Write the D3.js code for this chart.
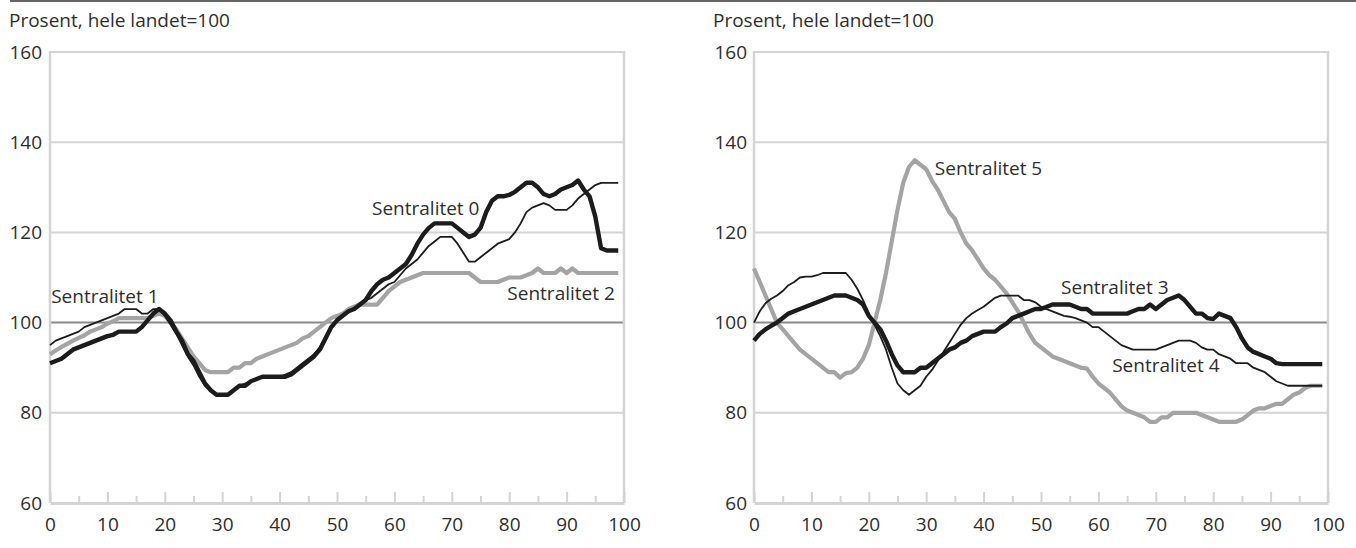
<!DOCTYPE html>
<html>
<head>
<meta charset="utf-8">
<script src="https://cdn.jsdelivr.net/npm/d3@7"></script>
<style>
  html, body { margin: 0; padding: 0; background: #fff; }
  svg { display: block; font-family: "Open Sans", "Noto Sans", sans-serif; }
</style>
</head>
<body>
<svg id="chart" width="1356" height="548"></svg>
<script>
// ---------- data ----------
const yTicks = [60, 80, 100, 120, 140, 160];
const xMajorTicks = [0, 10, 20, 30, 40, 50, 60, 70, 80, 90, 100];
const xMinorTicks = [5, 15, 25, 35, 45, 55, 65, 75, 85, 95];
const titleText = "Prosent, hele landet=100";

// Left panel
const sent0 = [91,91.5,92,93,94,94.5,95,95.5,96,96.5,97,97.3,98,98,98,98,99,100.5,102,103,
  102,100.5,98,96,93,91.5,89,86.5,85,84,84,84,85,86,86,87,87.5,88,88,88,
  88,88,88.5,89.5,90.5,91.5,92.5,94,96.5,99,100.5,101.5,102.5,103,104,105,107,108.5,109.5,110,
  111,112,113,115,117.5,119.5,121,122,122,122,122,121,120,119,119.5,121,124.5,127,128,128,
  128.3,129,130,131,131,130,128.5,128,128.5,129.5,130,130.5,131.5,129.5,128,123.5,116.5,116,116,116];
const sent1 = [95,96,96.5,97,97.5,98,99,99.5,100,100.5,101,101.5,102,103,103,103,102,102,103,103,
  101.5,99.5,97.5,95,92.5,90.5,88,86,85,84,84,84,85,86,86.5,87,87.5,88,88,88,
  88,88.5,89,90,91,92,93,94.5,97,99,100.5,101.5,102.5,103,104,105,105.5,106.5,107.5,108.5,
  109,110.5,112,113,114,115.5,117,118,119,119,119,117.5,115.5,113.5,113.5,114.5,115.5,116.5,117.5,118,
  118.5,120,122,124.5,125.5,126,126.5,126,125,125,125,126,127.5,128.5,129.5,130.5,131,131,131,131];
const sent2 = [93,93.8,94.6,95.3,96,96.6,97.2,98,98.5,99,99.8,100.3,101,101,101,101,101,101,101.5,102,
  101.5,100,98.5,96.5,94.5,92.5,91,89.5,89,89,89,89,90,90,91,91,92,92.5,93,93.5,
  94,94.5,95,95.5,96.5,97,98,99,100,101,101.5,102,103,103.5,104,104,104,104,105.5,107,
  108,109,109.5,110,110.5,111,111,111,111,111,111,111,111,111,110,109,109,109,109,109.5,
  110,110,110,110.5,111,112,111,111,111,112,111,112,111,111,111,111,111,111,111,111];

// Right panel
const sent3 = [96,97.5,98.5,99.3,100,101,102,102.5,103,103.5,104,104.5,105,105.5,106,106,106,105.5,105,104,
  101.5,100,98.5,96,93,90.5,89,89,89,90,90,91,92,93,94,94.5,95.5,96,97,97.5,
  98,98,98,99,99.8,101,101.5,102,102.5,103,103,103.5,104,104,104,104,103.5,103,103,102,
  102,102,102,102,102,102,102.5,103,103,104,103,104,105,105.5,106,105,103.5,102,102,101,
  100.8,102,101.5,101,99,96.5,94.5,93.5,93,92.5,92,91,90.8,90.8,90.8,90.8,90.8,90.8,90.8,90.8];
const sent4 = [100,102.5,104.3,105.3,106,107,108.3,109,110,110.2,110.2,110.5,111,111,111,111,111,109.5,107.5,105,
  102,99.5,97,94,90,86.5,85,84,85,86,88,89.5,91.5,93.5,95.5,97.5,99.5,101,102,102.8,
  103.5,104.5,105.5,106,106,106,106,105,105,104.5,103.5,103,102.5,102,101.5,101.3,101,100.5,100,99,
  99,98,97,96,95,94.5,94,94,94,94,94,94.5,95,95.5,96,96,96,95.5,94.5,94,
  94,93,92.5,92,91,91,91,90,89.5,89,88,87,86.5,86,86,86,86,86,86,86];
const sent5 = [112,109,106,103,100,98.5,97,95.5,94,93,92,91,90,89,89,87.8,88.8,89,90,92,
  95,100,105,111,118,125,131,134.5,136,135,134,131.5,129.5,127,124.5,123,120,117.5,116,114,
  112,110.5,109.5,108,106.5,104.5,102.5,100,97.5,95.5,94.5,93.5,92.5,92,91.5,91,90.5,90,89.8,88,
  86.5,85.5,84.5,83,81.5,80.5,80,79.5,79,78,78,79,79,80,80,80,80,80,79.5,79,
  78.5,78,78,78,78,78.5,79.5,80.5,81,81,81.5,82,82,83,84,84.5,85.5,86,86,86];

const leftSeries = [
  { name: "Sentralitet 2", values: sent2, style: "gray" },
  { name: "Sentralitet 1", values: sent1, style: "thin" },
  { name: "Sentralitet 0", values: sent0, style: "thick" }
];
const rightSeries = [
  { name: "Sentralitet 5", values: sent5, style: "gray" },
  { name: "Sentralitet 4", values: sent4, style: "thin" },
  { name: "Sentralitet 3", values: sent3, style: "thick" }
];
// label anchor points in data coordinates
const leftLabels = [
  { text: "Sentralitet 1", x: 0.2, y: 104.3, anchor: "start" },
  { text: "Sentralitet 0", x: 56.1, y: 123.9, anchor: "start" },
  { text: "Sentralitet 2", x: 98.4, y: 105.0, anchor: "end" }
];
const rightLabels = [
  { text: "Sentralitet 5", x: 31.5, y: 132.7, anchor: "start" },
  { text: "Sentralitet 3", x: 53.5, y: 106.3, anchor: "start" },
  { text: "Sentralitet 4", x: 62.4, y: 89.0, anchor: "start" }
];

// ---------- drawing ----------
const svg = d3.select("#chart");
const styles = {
  gray:  { stroke: "#a4a4a4", width: 4.2 },
  thin:  { stroke: "#1c1c1c", width: 1.8 },
  thick: { stroke: "#1c1c1c", width: 4.4 }
};
const textColor = "#2e2e2e";
const gridColor = "#d4d4d4";

// top rule
svg.append("line").attr("x1", 10).attr("x2", 1356).attr("y1", 1).attr("y2", 1)
  .attr("stroke", "#666").attr("stroke-width", 2);

function panel(left, right, titleX, yLabelGap, series, labels) {
  const x = d3.scaleLinear().domain([0, 100]).range([left, right]);
  const y = d3.scaleLinear().domain([60, 160]).range([503, 52]);
  const g = svg.append("g");

  g.append("text").attr("x", titleX).attr("y", 27).attr("fill", textColor)
    .attr("font-size", 19).text(titleText);

  // gridlines
  g.append("g").selectAll("line").data(yTicks.filter(v => v !== 60)).join("line")
    .attr("x1", x(0)).attr("x2", x(100))
    .attr("y1", d => y(d)).attr("y2", d => y(d))
    .attr("stroke", d => d === 100 ? "#8a8a8a" : gridColor)
    .attr("stroke-width", 2);
  // frame verticals
  g.append("g").selectAll("line").data([0, 100]).join("line")
    .attr("x1", d => x(d)).attr("x2", d => x(d))
    .attr("y1", y(160) - 1).attr("y2", y(60))
    .attr("stroke", gridColor).attr("stroke-width", 2.5);

  // y axis labels
  const yAxis = d3.axisLeft(y).tickValues(yTicks).tickSize(0).tickPadding(yLabelGap);
  const ya = g.append("g").attr("transform", `translate(${x(0)},0)`).call(yAxis);
  ya.select(".domain").remove();
  ya.selectAll("text").attr("fill", textColor).attr("font-size", 19)
    .attr("font-family", "'Open Sans', 'Noto Sans', sans-serif");

  // x axis
  const xa = g.append("g").attr("transform", `translate(0,${y(60)})`)
    .call(d3.axisBottom(x).tickValues(xMajorTicks).tickSizeInner(-11).tickSizeOuter(0).tickPadding(15));
  xa.select(".domain").attr("stroke", gridColor).attr("stroke-width", 3);
  xa.selectAll(".tick line").attr("stroke", gridColor).attr("stroke-width", 2);
  xa.selectAll("text").attr("fill", textColor).attr("font-size", 19)
    .attr("font-family", "'Open Sans', 'Noto Sans', sans-serif");
  const xm = g.append("g").attr("transform", `translate(0,${y(60)})`)
    .call(d3.axisBottom(x).tickValues(xMinorTicks).tickSizeInner(-7).tickSizeOuter(0).tickFormat(""));
  xm.select(".domain").remove();
  xm.selectAll(".tick line").attr("stroke", gridColor).attr("stroke-width", 2);

  // lines
  const line = d3.line().x((d, i) => x(i)).y(d => y(d)).curve(d3.curveLinear);
  g.append("g").selectAll("path").data(series).join("path")
    .attr("d", d => line(d.values))
    .attr("fill", "none")
    .attr("stroke", d => styles[d.style].stroke)
    .attr("stroke-width", d => styles[d.style].width)
    .attr("stroke-linejoin", "round")
    .attr("stroke-linecap", "butt");

  // labels
  g.append("g").selectAll("text").data(labels).join("text")
    .attr("x", d => x(d.x)).attr("y", d => y(d.y))
    .attr("text-anchor", d => d.anchor)
    .attr("fill", textColor).attr("font-size", 19)
    .text(d => d.text);
}

panel(50, 624, 9, 8, leftSeries, leftLabels);
panel(754, 1328, 713, 7, rightSeries, rightLabels);
</script>
</body>
</html>
